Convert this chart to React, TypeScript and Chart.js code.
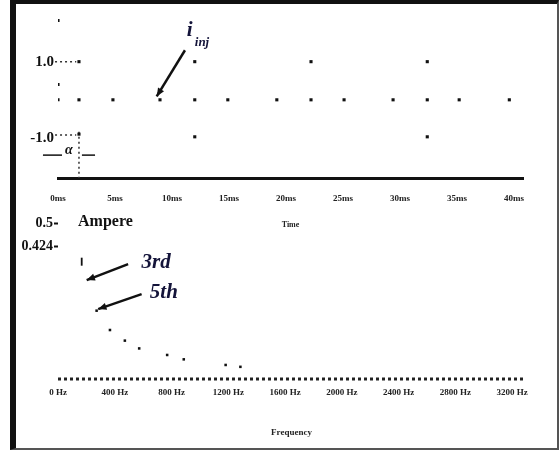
import React, { useEffect, useRef } from "react";
import { Chart, registerables } from "chart.js";

Chart.register(...registerables);

// ---------- Top chart: injected current vs time ----------
const timeTicks = [0, 5, 10, 15, 20, 25, 30, 35, 40];
const timeTickLabels = ["0ms", "5ms", "10ms", "15ms", "20ms", "25ms", "30ms", "35ms", "40ms"];
const currentTicks = [1, -1];
const currentTickLabels = ["1.0", "-1.0"];

const injTime = [0, 0, 0, 1.84, 1.84, 1.84, 4.82, 8.95, 12.0, 12.0, 12.0, 14.9, 19.2, 22.2, 22.2, 25.1, 29.4, 32.4, 32.4, 32.4, 35.2, 39.6];
const injCurrent = [2.08, 0.4, 0, 1.0, 0, -0.9, 0, 0, 1.0, 0, -0.97, 0, 0, 1.0, 0, 0, 0, 1.0, 0, -0.97, 0, 0];

const alphaTime = 1.84; // dead-angle marker

// ---------- Bottom chart: harmonic spectrum ----------
const freqTicks = [0, 400, 800, 1200, 1600, 2000, 2400, 2800, 3200];
const freqTickLabels = ["0 Hz", "400 Hz", "800 Hz", "1200 Hz", "1600 Hz", "2000 Hz", "2400 Hz", "2800 Hz", "3200 Hz"];
const ampTicks = [0.424, 0.5];
const ampTickLabels = ["0.424", "0.5"];
const freqMax = 3290;

const harmonicFreq = [167, 272, 366, 471, 572, 769, 886, 1181, 1285];
const harmonicAmp = [0.376, 0.219, 0.157, 0.123, 0.098, 0.077, 0.063, 0.045, 0.039];

type Ann =
  | { kind: "text"; x: number; y: number; text: string; font: string; color: string; align?: CanvasTextAlign; base?: CanvasTextBaseline }
  | { kind: "arrow"; x1: number; y1: number; x2: number; y2: number; color: string; width: number }
  | { kind: "line"; x1: number; y1: number; x2: number; y2: number; color: string; width: number };

const annotationPlugin = {
  id: "annotations",
  afterDraw(chart: any) {
    const anns: Ann[] = chart.options.plugins.annotations?.items || [];
    const xs = chart.scales.x;
    const ys = chart.scales.y;
    const ctx: CanvasRenderingContext2D = chart.ctx;
    ctx.save();
    for (const a of anns) {
      if (a.kind === "text") {
        ctx.font = a.font;
        ctx.fillStyle = a.color;
        ctx.textAlign = a.align || "left";
        ctx.textBaseline = a.base || "middle";
        ctx.fillText(a.text, xs.getPixelForValue(a.x), ys.getPixelForValue(a.y));
      } else {
        const px1 = xs.getPixelForValue(a.x1);
        const py1 = ys.getPixelForValue(a.y1);
        const px2 = xs.getPixelForValue(a.x2);
        const py2 = ys.getPixelForValue(a.y2);
        ctx.strokeStyle = a.color;
        ctx.fillStyle = a.color;
        ctx.lineWidth = a.width;
        ctx.beginPath();
        ctx.moveTo(px1, py1);
        ctx.lineTo(px2, py2);
        ctx.stroke();
        if (a.kind === "arrow") {
          const ang = Math.atan2(py2 - py1, px2 - px1);
          const L = 9;
          const W = 0.4;
          ctx.beginPath();
          ctx.moveTo(px2, py2);
          ctx.lineTo(px2 - L * Math.cos(ang - W), py2 - L * Math.sin(ang - W));
          ctx.lineTo(px2 - L * Math.cos(ang + W), py2 - L * Math.sin(ang + W));
          ctx.closePath();
          ctx.fill();
        }
      }
    }
    ctx.restore();
  },
};

const SERIF = "'Liberation Serif', 'DejaVu Serif', serif";
const INK = "#111";

function TopChart() {
  const ref = useRef<HTMLCanvasElement>(null);
  useEffect(() => {
    const pts = injTime.map((t, i) => ({ x: t, y: injCurrent[i] }));
    const chart = new Chart(ref.current!, {
      type: "scatter",
      data: {
        datasets: [
          {
            data: pts,
            pointStyle: "rect",
            pointRadius: 2.2,
            backgroundColor: INK,
            borderColor: INK,
            borderWidth: 0,
          },
          {
            type: "line",
            data: [{ x: -0.26, y: 1 }, { x: 1.6, y: 1 }],
            borderColor: "#333",
            borderWidth: 1.5,
            borderDash: [2, 3],
            pointRadius: 0,
            clip: false,
          } as any,
          {
            type: "line",
            data: [{ x: -0.26, y: -0.92 }, { x: 1.6, y: -0.92 }],
            borderColor: "#333",
            borderWidth: 1.5,
            borderDash: [2, 3],
            pointRadius: 0,
            clip: false,
          } as any,
          {
            type: "line",
            data: [{ x: alphaTime, y: -0.84 }, { x: alphaTime, y: -2.05 }],
            borderColor: "#333",
            borderWidth: 1.5,
            borderDash: [2, 3],
            pointRadius: 0,
          } as any,
        ],
      },
      options: {
        animation: false,
        responsive: false,
        events: [],
        layout: { padding: { left: 0, right: 36, top: 14, bottom: 0 } },
        plugins: {
          legend: { display: false },
          tooltip: { enabled: false },
          annotations: {
            items: [
              { kind: "text", x: 11.3, y: 1.67, text: "i", font: `italic bold 21px ${SERIF}`, color: "#14143a", base: "alphabetic" },
              { kind: "text", x: 12.0, y: 1.42, text: "inj", font: `italic bold 13px ${SERIF}`, color: "#14143a", base: "alphabetic" },
              { kind: "arrow", x1: 11.14, y1: 1.3, x2: 8.66, y2: 0.09, color: INK, width: 2.5 },
              { kind: "text", x: 0.96, y: -1.33, text: "α", font: `italic bold 14px ${SERIF}`, color: INK, align: "center" },
              { kind: "line", x1: -1.32, y1: -1.45, x2: 0.35, y2: -1.45, color: INK, width: 1.5 },
              { kind: "line", x1: 2.1, y1: -1.45, x2: 3.25, y2: -1.45, color: INK, width: 1.5 },
            ],
          },
        } as any,
        scales: {
          x: {
            type: "linear",
            min: 0,
            max: 40.8,
            afterBuildTicks: (s: any) => {
              s.ticks = timeTicks.map((v) => ({ value: v }));
            },
            afterFit: (s: any) => {
              s.height = 57;
            },
            grid: { display: false, drawTicks: false, tickLength: 0 },
            border: { display: true, color: INK, width: 3 },
            ticks: {
              padding: 15,
              color: "#222",
              font: { family: SERIF, size: 9, weight: "bold" },
              callback: (_v: any, i: number) => timeTickLabels[i],
              maxRotation: 0,
              autoSkip: false,
            },
            title: {
              display: true,
              text: "Time",
              color: "#222",
              font: { family: SERIF, size: 8, weight: "bold" },
              padding: { top: 0, bottom: 5 },
            },
          },
          y: {
            type: "linear",
            min: -2.05,
            max: 2.25,
            afterBuildTicks: (s: any) => {
              s.ticks = currentTicks.map((v) => ({ value: v }));
            },
            afterFit: (s: any) => {
              s.width = 58;
            },
            grid: { display: false, drawTicks: false, tickLength: 0 },
            border: { display: false },
            ticks: {
              padding: 4,
              color: INK,
              font: { family: SERIF, size: 15, weight: "bold" },
              callback: (_v: any, i: number) => currentTickLabels[i],
            },
          },
        },
      },
      plugins: [annotationPlugin],
    });
    return () => chart.destroy();
  }, []);
  return (
    <canvas
      ref={ref}
      width={559}
      height={235}
      style={{ position: "absolute", left: 0, top: 0, width: 559, height: 235 }}
    />
  );
}

function BottomChart() {
  const ref = useRef<HTMLCanvasElement>(null);
  useEffect(() => {
    const pts = harmonicFreq.map((f, i) => ({ x: f, y: harmonicAmp[i] }));
    const styles = harmonicFreq.map((_, i) => (i === 0 ? "line" : "rect"));
    const rotations = harmonicFreq.map((_, i) => (i === 0 ? 90 : 0));
    const radii = harmonicFreq.map((_, i) => (i === 0 ? 4 : 1.8));
    const widths = harmonicFreq.map((_, i) => (i === 0 ? 1.8 : 0));
    const chart = new Chart(ref.current!, {
      type: "scatter",
      data: {
        datasets: [
          {
            data: pts,
            pointStyle: styles as any,
            pointRotation: rotations,
            pointRadius: radii,
            pointBorderWidth: widths,
            backgroundColor: INK,
            borderColor: INK,
          } as any,
          {
            type: "line",
            data: [{ x: 0, y: 0 }, { x: freqMax, y: 0 }],
            borderColor: "#222",
            borderWidth: 3,
            borderDash: [3, 3],
            pointRadius: 0,
            clip: false,
          } as any,
        ],
      },
      options: {
        animation: false,
        responsive: false,
        events: [],
        layout: { padding: { left: 0, right: 34, top: 13, bottom: 0 } },
        plugins: {
          legend: { display: false },
          tooltip: { enabled: false },
          annotations: {
            items: [
              { kind: "text", x: 141, y: 0.503, text: "Ampere", font: `bold 16px ${SERIF}`, color: INK },
              { kind: "text", x: 589, y: 0.372, text: "3rd", font: `italic bold 21px ${SERIF}`, color: "#14143a" },
              { kind: "text", x: 647, y: 0.277, text: "5th", font: `italic bold 21px ${SERIF}`, color: "#14143a" },
              { kind: "arrow", x1: 494, y1: 0.368, x2: 202, y2: 0.317, color: INK, width: 2.5 },
              { kind: "arrow", x1: 589, y1: 0.272, x2: 283, y2: 0.224, color: INK, width: 2.5 },
            ],
          },
        } as any,
        scales: {
          x: {
            type: "linear",
            min: 0,
            max: freqMax,
            afterBuildTicks: (s: any) => {
              s.ticks = freqTicks.map((v) => ({ value: v }));
            },
            afterFit: (s: any) => {
              s.height = 71;
            },
            grid: { display: false, drawTicks: false, tickLength: 0 },
            border: { display: false },
            ticks: {
              padding: 8,
              color: "#222",
              font: { family: SERIF, size: 9, weight: "bold" },
              callback: (_v: any, i: number) => freqTickLabels[i],
              maxRotation: 0,
              autoSkip: false,
            },
            title: {
              display: true,
              text: "Frequency",
              color: "#222",
              font: { family: SERIF, size: 9, weight: "bold" },
              padding: { top: 0, bottom: 12 },
            },
          },
          y: {
            type: "linear",
            min: 0,
            max: 0.5,
            afterBuildTicks: (s: any) => {
              s.ticks = ampTicks.map((v) => ({ value: v }));
            },
            afterFit: (s: any) => {
              s.width = 58;
            },
            grid: { display: true, drawOnChartArea: false, drawTicks: true, tickLength: 4, color: INK, tickWidth: 2 },
            border: { display: false },
            ticks: {
              padding: 1,
              color: INK,
              font: { family: SERIF, size: 14, weight: "bold" },
              callback: (_v: any, i: number) => ampTickLabels[i],
            },
          },
        },
      },
      plugins: [annotationPlugin],
    });
    return () => chart.destroy();
  }, []);
  return (
    <canvas
      ref={ref}
      width={559}
      height={240}
      style={{ position: "absolute", left: 0, top: 210, width: 559, height: 240 }}
    />
  );
}

export default function App() {
  useEffect(() => {
    document.body.style.margin = "0";
    document.body.style.background = "#fff";
  }, []);
  return (
    <div style={{ position: "absolute", left: 0, top: 0, width: 559, height: 450, background: "#fff", overflow: "hidden" }}>
      <TopChart />
      <BottomChart />
      <div
        style={{
          position: "absolute",
          left: 10,
          top: 0,
          width: 549,
          height: 450,
          boxSizing: "border-box",
          borderLeft: "6px solid #111",
          borderTop: "4px solid #111",
          borderRight: "2px solid #555",
          borderBottom: "2px solid #555",
          pointerEvents: "none",
        }}
      />
    </div>
  );
}
